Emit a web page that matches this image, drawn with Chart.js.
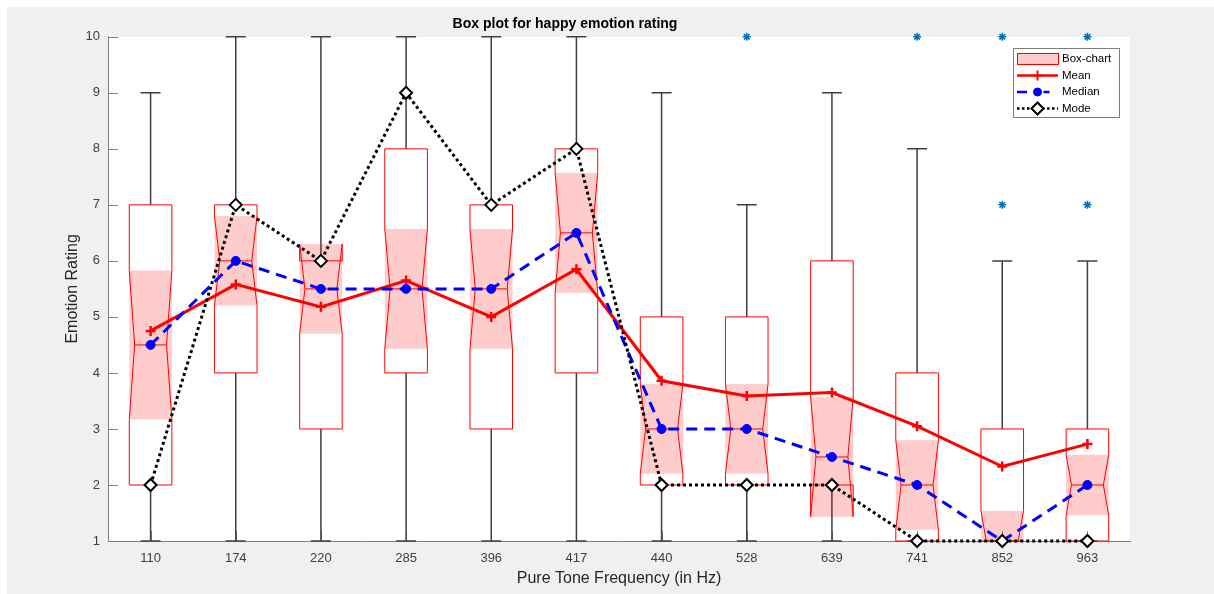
<!DOCTYPE html>
<html>
<head>
<meta charset="utf-8">
<script src="https://cdn.jsdelivr.net/npm/chart.js@4.4.0/dist/chart.umd.min.js"></script>
<style>
  html, body { margin: 0; padding: 0; background: #fff; }
  canvas { display: block; }
</style>
</head>
<body>
<canvas id="chart" width="1214" height="594"></canvas>
<script>
// pure tone frequencies (Hz)
const frequencies = ['110', '174', '220', '285', '396', '417', '440', '528', '639', '741', '852', '963'];

// box statistics
const q1 = [2, 4, 3, 4, 3, 4, 2, 2, 2, 1, 1, 1];
const q3 = [7, 7, 6, 8, 7, 8, 5, 5, 6, 4, 3, 3];
const medians = [4.5, 6, 5.5, 5.5, 5.5, 6.5, 3, 3, 2.5, 2, 1, 2];
const whiskerLo = [1, 1, 1, 1, 1, 1, 1, 1, 1, 1, 1, 1];
const whiskerHi = [9, 10, 10, 10, 10, 10, 9, 7, 9, 8, 6, 6];
const notchLo = [3.17, 5.2, 4.7, 4.43, 4.43, 5.43, 2.2, 2.2, 1.43, 1.2, 0.46, 1.46];
const notchHi = [5.83, 6.8, 6.3, 6.57, 6.57, 7.57, 3.8, 3.8, 3.57, 2.8, 1.54, 2.54];

// summary lines
const means = [4.75, 5.58, 5.18, 5.65, 5.0, 5.85, 3.86, 3.59, 3.65, 3.05, 2.33, 2.73];
const modes = [2, 7, 6, 9, 7, 8, 2, 2, 2, 1, 1, 1];

// outliers
const outlierCats = ['528', '741', '852', '852', '963', '963'];
const outlierVals = [10, 10, 7, 10, 7, 10];

const yTicks = [1, 2, 3, 4, 5, 6, 7, 8, 9, 10];

const FONT = '"Liberation Sans", Arial, Helvetica, sans-serif';
const PINK = 'rgba(255, 0, 0, 0.2)';
const AXIS = '#808080';

const background = {
  id: 'background',
  beforeDraw(chart) {
    const {ctx, chartArea: a, width, height} = chart;
    ctx.save();
    ctx.fillStyle = '#fff';
    ctx.fillRect(0, 0, width, height);
    ctx.fillStyle = '#f0f0f0';
    ctx.fillRect(7, 7, width - 7, height - 7);
    ctx.fillStyle = '#fff';
    ctx.fillRect(a.left, a.top, a.right - a.left, a.bottom - a.top);
    ctx.restore();
  }
};

const boxPlot = {
  id: 'boxPlot',
  beforeDatasetsDraw(chart) {
    const {ctx, chartArea: a, scales: {x, y}} = chart;
    const step = x.getPixelForValue(1) - x.getPixelForValue(0);
    const hw = step * 0.25;
    const nw = hw * 0.75;
    const cap = 10;

    ctx.save();
    // inside tick marks
    ctx.strokeStyle = AXIS;
    ctx.lineWidth = 1;
    ctx.beginPath();
    yTicks.forEach(v => {
      const py = Math.round(y.getPixelForValue(v)) + 0.5;
      ctx.moveTo(a.left, py);
      ctx.lineTo(a.left + 10, py);
    });
    frequencies.forEach((f, i) => {
      const px = Math.round(x.getPixelForValue(i)) + 0.5;
      ctx.moveTo(px, a.bottom);
      ctx.lineTo(px, a.bottom - 10);
    });
    ctx.stroke();

    frequencies.forEach((f, i) => {
      const cx = x.getPixelForValue(i);
      const yq1 = y.getPixelForValue(q1[i]);
      const yq3 = y.getPixelForValue(q3[i]);
      const ymed = y.getPixelForValue(medians[i]);
      const ylo = y.getPixelForValue(whiskerLo[i]);
      const yhi = y.getPixelForValue(whiskerHi[i]);
      const ynl = y.getPixelForValue(notchLo[i]);
      const ynh = y.getPixelForValue(notchHi[i]);

      // whiskers
      ctx.strokeStyle = '#404040';
      ctx.lineWidth = 1.5;
      ctx.beginPath();
      ctx.moveTo(cx, yq3); ctx.lineTo(cx, yhi);
      ctx.moveTo(cx - cap, yhi); ctx.lineTo(cx + cap, yhi);
      if (whiskerLo[i] < q1[i]) {
        ctx.moveTo(cx, yq1); ctx.lineTo(cx, ylo);
      }
      ctx.moveTo(cx - cap, ylo); ctx.lineTo(cx + cap, ylo);
      ctx.stroke();

      ctx.save();
      ctx.beginPath();
      ctx.rect(a.left, a.top - 1, a.right - a.left, a.bottom - a.top + 2);
      ctx.clip();

      // notch shading
      ctx.fillStyle = PINK;
      ctx.fillRect(cx - hw, ynh, hw * 2, ynl - ynh);

      // notched outline
      ctx.strokeStyle = '#ff0000';
      ctx.lineWidth = 1;
      ctx.beginPath();
      ctx.moveTo(cx - hw, yq1);
      ctx.lineTo(cx - hw, ynl);
      ctx.lineTo(cx - nw, ymed);
      ctx.lineTo(cx - hw, ynh);
      ctx.lineTo(cx - hw, yq3);
      ctx.lineTo(cx + hw, yq3);
      ctx.lineTo(cx + hw, ynh);
      ctx.lineTo(cx + nw, ymed);
      ctx.lineTo(cx + hw, ynl);
      ctx.lineTo(cx + hw, yq1);
      ctx.closePath();
      ctx.stroke();

      // median line
      ctx.beginPath();
      ctx.moveTo(cx - nw, ymed);
      ctx.lineTo(cx + nw, ymed);
      ctx.stroke();
      ctx.restore();
    });
    ctx.restore();
  }
};

const boxLegend = {
  id: 'boxLegend',
  afterDraw(chart) {
    const ctx = chart.ctx;
    const drawPoint = Chart.helpers.drawPoint;
    const lx = 1013, ly = 48, lw = 106, lh = 69;
    const x0 = 1017, x1 = 1058, xm = 1037.5;
    const rows = [59, 75.5, 92, 108.5];
    const labels = ['Box-chart', 'Mean', 'Median', 'Mode'];

    ctx.save();
    ctx.fillStyle = '#fff';
    ctx.fillRect(lx, ly, lw, lh);
    ctx.strokeStyle = '#7f7f7f';
    ctx.lineWidth = 1;
    ctx.strokeRect(lx + 0.5, ly + 0.5, lw, lh);

    // box-chart swatch
    ctx.fillStyle = PINK;
    ctx.fillRect(x0, rows[0] - 6, x1 - x0, 12);
    ctx.strokeStyle = '#ff0000';
    ctx.strokeRect(x0 + 0.5, rows[0] - 5.5, x1 - x0, 11);

    // mean
    ctx.strokeStyle = '#ff0000';
    ctx.lineWidth = 2.5;
    ctx.beginPath();
    ctx.moveTo(x0, rows[1]); ctx.lineTo(x1, rows[1]);
    ctx.stroke();
    ctx.lineWidth = 2;
    drawPoint(ctx, {pointStyle: 'cross', radius: 5, rotation: 0, borderWidth: 2}, xm, rows[1]);

    // median
    ctx.strokeStyle = '#0000ff';
    ctx.fillStyle = '#0000ff';
    ctx.lineWidth = 2.5;
    ctx.beginPath();
    ctx.moveTo(x0, rows[2]); ctx.lineTo(x0 + 10, rows[2]);
    ctx.moveTo(xm + 6, rows[2]); ctx.lineTo(xm + 12, rows[2]);
    ctx.stroke();
    ctx.lineWidth = 1;
    drawPoint(ctx, {pointStyle: 'circle', radius: 4, rotation: 0, borderWidth: 1}, xm, rows[2]);

    // mode
    ctx.strokeStyle = '#000';
    ctx.lineWidth = 2.5;
    ctx.setLineDash([2.5, 2.5]);
    ctx.beginPath();
    ctx.moveTo(x0, rows[3]); ctx.lineTo(x1, rows[3]);
    ctx.stroke();
    ctx.setLineDash([]);
    ctx.fillStyle = '#fff';
    ctx.lineWidth = 2;
    drawPoint(ctx, {pointStyle: 'rectRot', radius: 6, rotation: 0, borderWidth: 2}, xm, rows[3]);

    ctx.fillStyle = '#000';
    ctx.font = '11.5px ' + FONT;
    ctx.textBaseline = 'middle';
    labels.forEach((t, i) => ctx.fillText(t, 1062, rows[i]));
    ctx.restore();
  }
};

new Chart(document.getElementById('chart'), {
  type: 'line',
  data: {
    labels: frequencies,
    datasets: [
      {
        label: 'Mode',
        data: modes,
        order: 0,
        borderColor: '#000',
        borderWidth: 3,
        borderDash: [3, 3],
        borderCapStyle: 'butt',
        pointStyle: 'rectRot',
        pointRadius: 6,
        pointBorderWidth: 2,
        pointBorderColor: '#000',
        pointBackgroundColor: '#fff',
        tension: 0,
        clip: false
      },
      {
        label: 'Median',
        data: medians,
        order: 1,
        borderColor: '#0000ff',
        borderWidth: 3,
        borderDash: [11, 7],
        pointStyle: 'circle',
        pointRadius: 4.5,
        pointBorderWidth: 1,
        pointBorderColor: '#0000ff',
        pointBackgroundColor: '#0000ff',
        tension: 0,
        clip: false
      },
      {
        label: 'Mean',
        data: means,
        order: 2,
        borderColor: '#ff0000',
        borderWidth: 3,
        pointStyle: 'cross',
        pointRadius: 5,
        pointBorderWidth: 2.5,
        pointBorderColor: '#ff0000',
        tension: 0,
        clip: false
      },
      {
        label: 'Outliers',
        data: outlierCats.map((c, i) => ({x: c, y: outlierVals[i]})),
        order: 3,
        showLine: false,
        pointStyle: 'star',
        pointRadius: 4,
        pointBorderWidth: 1.5,
        pointBorderColor: '#0072bd',
        pointBackgroundColor: '#0072bd',
        clip: false
      }
    ]
  },
  options: {
    responsive: false,
    animation: false,
    devicePixelRatio: 1,
    layout: { padding: { left: 0, right: 84, top: 0, bottom: 0 } },
    plugins: {
      legend: { display: false },
      tooltip: { enabled: false },
      title: {
        display: true,
        text: 'Box plot for happy emotion rating',
        color: '#000',
        font: { family: FONT, size: 14, weight: 'bold' },
        padding: { top: 16, bottom: 4 }
      }
    },
    scales: {
      x: {
        type: 'category',
        offset: true,
        grid: { display: false },
        border: { display: true, color: AXIS, width: 1 },
        ticks: { color: '#404040', font: { family: FONT, size: 13 }, padding: 2, maxRotation: 0 },
        title: {
          display: true,
          text: 'Pure Tone Frequency (in Hz)',
          color: '#262626',
          font: { family: FONT, size: 16 },
          padding: { top: 0, bottom: 6 }
        },
        afterFit(scale) { scale.height = 53; }
      },
      y: {
        min: 1,
        max: 10,
        grid: { display: false },
        border: { display: true, color: AXIS, width: 1 },
        ticks: { stepSize: 1, color: '#404040', font: { family: FONT, size: 13 }, padding: 0 },
        title: {
          display: true,
          text: 'Emotion Rating',
          color: '#262626',
          font: { family: FONT, size: 16 },
          padding: { top: 63, bottom: 0 }
        },
        afterFit(scale) { scale.width = 108; }
      }
    }
  },
  plugins: [background, boxPlot, boxLegend]
});
</script>
</body>
</html>
